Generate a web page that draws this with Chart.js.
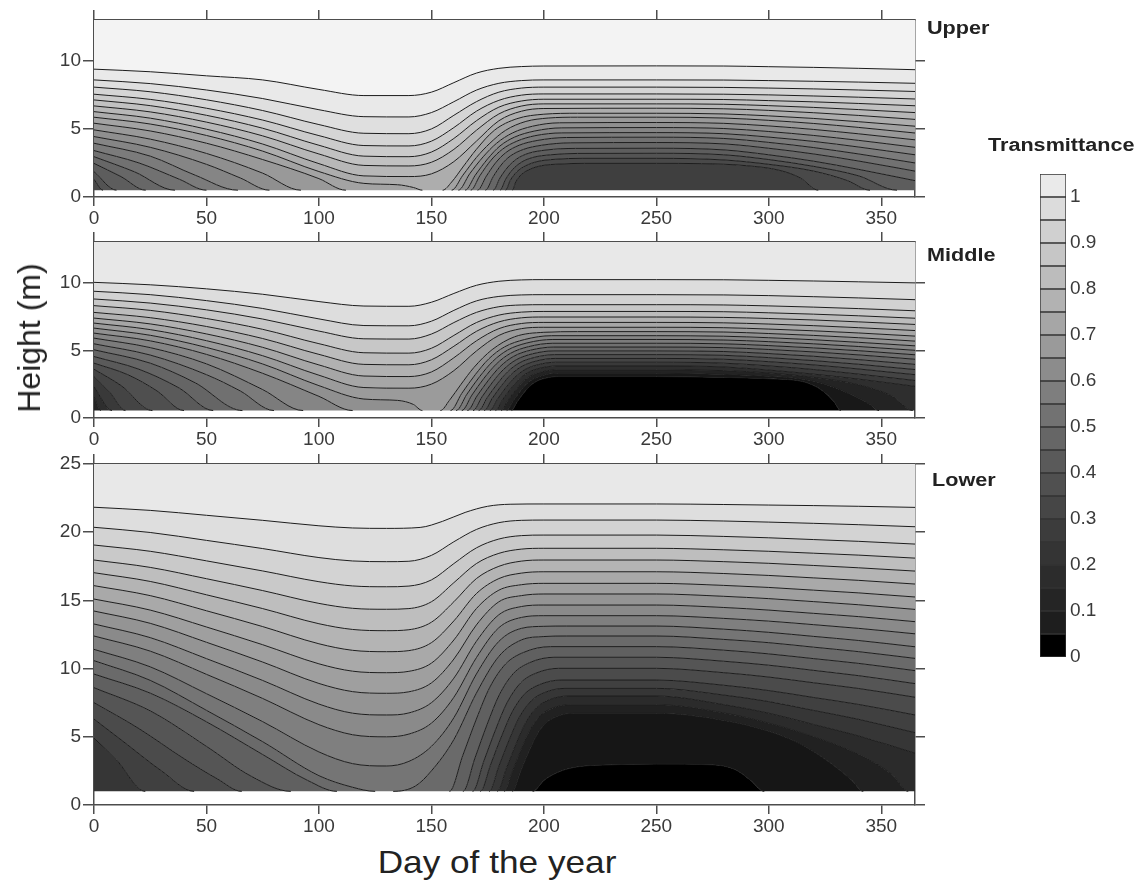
<!DOCTYPE html>
<html>
<head>
<meta charset="utf-8">
<script src="https://cdn.jsdelivr.net/npm/chart.js@4.4.1/dist/chart.umd.min.js"></script>
<style>
  body { margin: 0; background: #fff; width: 1139px; height: 893px; position: relative; overflow: hidden; font-family: 'Liberation Sans', Arial, sans-serif; }
  canvas { position: absolute; left: 0; }
  .txt { position: absolute; color: #222; white-space: nowrap; line-height: 1; }
  .pn { font-size: 18px; font-weight: bold; transform: scaleX(1.2); transform-origin: left center; }
</style>
</head>
<body>
<canvas id="upper" width="1139" height="230" style="top:0px"></canvas>
<canvas id="middle" width="1139" height="221" style="top:230px"></canvas>
<canvas id="lower" width="1139" height="387" style="top:451px"></canvas>
<canvas id="cbar" width="139" height="512" style="left:1000px;top:160px"></canvas>

<div class="txt pn" style="left:927px;top:19px">Upper</div>
<div class="txt pn" style="left:927px;top:246px">Middle</div>
<div class="txt pn" style="left:932px;top:471px">Lower</div>
<div class="txt pn" style="left:988px;top:136px">Transmittance</div>
<div class="txt" style="left:29px;top:338px;font-size:32px;transform:translate(-50%,-50%) rotate(-90deg)">Height (m)</div>
<div class="txt" style="left:497px;top:862px;font-size:32px;transform:translate(-50%,-50%) scaleX(1.1)">Day of the year</div>

<script>
// axis ticks
const dayTicks = [0, 50, 100, 150, 200, 250, 300, 350];
const shortYTicks = [0, 5, 10];
const tallYTicks = [0, 5, 10, 15, 20, 25];
const legendTicks = [0, 0.1, 0.2, 0.3, 0.4, 0.5, 0.6, 0.7, 0.8, 0.9, 1];
const legendBreaks = [0, 0.05, 0.1, 0.15, 0.2, 0.25, 0.3, 0.35, 0.4, 0.45, 0.5, 0.55, 0.6, 0.65, 0.7, 0.75, 0.8, 0.85, 0.9, 0.95, 1, 1.05];

// lowest height with data in each panel (m)
const upperFloor = 0.5;
const middleFloor = 0.55;
const lowerFloor = 1.0;

// contour lines, highest transmittance first: [day, height]
const upperLines = [
  [[0,9.39],[25,9.2],[50,8.9],[75,8.6],[100,7.9],[120,7.45],[140,7.45],[150,7.7],[160,8.4],[170,9.1],[180,9.45],[190,9.58],[200,9.62],[250,9.63],[280,9.62],[300,9.57],[320,9.52],[340,9.45],[365,9.35]],
  [[0,8.6],[25,8.33],[50,7.86],[75,7.23],[100,6.41],[120,5.9],[140,5.88],[150,6.2],[160,7.0],[170,7.85],[180,8.35],[190,8.55],[200,8.6],[250,8.6],[280,8.59],[300,8.55],[320,8.5],[340,8.44],[365,8.35]],
  [[0,8.07],[25,7.73],[50,7.14],[75,6.35],[100,5.32],[120,4.68],[140,4.65],[150,5.0],[160,6.0],[170,7.0],[180,7.7],[190,8.0],[200,8.07],[250,8.07],[280,8.05],[300,8.0],[320,7.94],[340,7.86],[365,7.75]],
  [[0,7.55],[25,7.17],[50,6.52],[75,5.65],[100,4.51],[120,3.78],[140,3.75],[150,4.1],[160,5.1],[170,6.3],[180,7.1],[190,7.48],[200,7.57],[250,7.57],[280,7.55],[300,7.5],[320,7.42],[340,7.33],[365,7.2]],
  [[0,7.13],[25,6.71],[50,6.0],[75,5.05],[100,3.8],[120,3.0],[140,2.96],[150,3.3],[160,4.3],[170,5.6],[180,6.6],[190,7.05],[200,7.18],[250,7.18],[280,7.16],[300,7.08],[320,6.99],[340,6.87],[365,6.7]],
  [[0,6.69],[25,6.25],[50,5.5],[75,4.49],[100,3.16],[120,2.32],[140,2.28],[150,2.55],[160,3.5],[170,4.9],[180,6.1],[190,6.68],[200,6.84],[250,6.84],[280,6.81],[300,6.71],[320,6.58],[340,6.42],[365,6.2]],
  [[0,6.27],[25,5.79],[50,4.98],[75,3.89],[100,2.45],[120,1.55],[140,1.5],[150,1.7],[160,2.6],[170,4.1],[180,5.6],[190,6.3],[200,6.5],[250,6.52],[280,6.48],[300,6.36],[320,6.19],[340,5.99],[365,5.7]],
  [[0,5.86],[25,5.36],[50,4.52],[75,3.37],[100,1.87],[120,1.0],[135,0.9],[142,0.7],[146,0.5],[155,0.5],[159,1.1],[164,2.2],[170,3.5],[178,4.9],[188,5.75],[200,6.08],[215,6.15],[250,6.15],[280,6.1],[300,5.96],[320,5.77],[340,5.53],[365,5.2]],
  [[0,5.42],[25,4.85],[50,3.95],[75,2.75],[100,1.35],[112,0.5],[159,0.5],[164,1.6],[170,2.9],[176,3.95],[183,4.9],[192,5.55],[202,5.8],[215,5.86],[250,5.86],[280,5.8],[300,5.63],[320,5.4],[340,5.11],[365,4.7]],
  [[0,4.93],[25,4.25],[50,3.2],[75,1.75],[92,0.5],[162,0.5],[167,1.7],[173,2.95],[179,3.95],[186,4.7],[195,5.2],[207,5.45],[250,5.47],[280,5.41],[300,5.22],[320,4.96],[340,4.64],[365,4.2]],
  [[0,4.44],[25,3.65],[50,2.4],[65,1.4],[78,0.5],[165,0.5],[169.5,1.6],[175,2.8],[180.5,3.75],[187,4.4],[196,4.85],[208,5.08],[250,5.1],[280,5.03],[300,4.81],[320,4.52],[340,4.16],[365,3.65]],
  [[0,3.95],[25,3.0],[45,1.6],[64,0.5],[167.5,0.5],[171.5,1.55],[176.5,2.7],[181.5,3.5],[188,4.1],[196,4.5],[208,4.71],[250,4.73],[280,4.65],[300,4.4],[320,4.08],[340,3.67],[365,3.1]],
  [[0,3.41],[20,2.5],[38,1.3],[50,0.5],[170.5,0.5],[174.5,1.55],[178.5,2.5],[183,3.25],[189,3.8],[197,4.15],[210,4.37],[250,4.39],[280,4.3],[300,4.01],[320,3.63],[340,3.16],[365,2.5]],
  [[0,2.96],[18,1.85],[36,0.5],[174,0.5],[177.5,1.5],[181,2.35],[185,3.0],[191,3.5],[199,3.8],[212,3.98],[250,4.0],[280,3.9],[300,3.58],[320,3.16],[340,2.64],[365,1.9]],
  [[0,2.47],[12,1.5],[23,0.5],[177.5,0.5],[180.5,1.4],[184,2.2],[188,2.8],[193,3.2],[201,3.45],[214,3.57],[250,3.58],[280,3.46],[300,3.1],[320,2.63],[340,2.03],[365,1.2]],
  [[0,1.86],[10,0.5],[180.5,0.5],[183,1.3],[186,2.0],[190,2.55],[195,2.9],[203,3.1],[215,3.2],[250,3.21],[280,3.1],[300,2.75],[320,2.25],[340,1.55],[357,0.5],[365,0.5]],
  [[0,1.3],[4,0.5],[183,0.5],[185,1.2],[188,1.85],[192,2.3],[197,2.6],[205,2.77],[217,2.84],[250,2.84],[280,2.72],[300,2.4],[320,1.9],[335,1.2],[345,0.5],[365,0.5]],
  [[0,0.5],[186,0.5],[187.5,1.1],[190,1.65],[194,2.05],[199,2.3],[207,2.42],[218,2.47],[250,2.47],[270,2.45],[290,2.3],[305,1.95],[314,1.4],[322,0.5],[365,0.5]]
];

const middleLines = [
  [[0,10.02],[25,9.84],[50,9.54],[75,9.14],[100,8.6],[120,8.27],[140,8.25],[150,8.55],[160,9.2],[170,9.8],[180,10.1],[190,10.2],[200,10.22],[250,10.22],[280,10.21],[300,10.17],[320,10.12],[340,10.06],[365,9.98]],
  [[0,9.36],[25,9.11],[50,8.67],[75,8.09],[100,7.32],[120,6.83],[140,6.81],[150,7.15],[160,7.95],[170,8.65],[180,8.98],[190,9.09],[200,9.11],[250,9.11],[280,9.09],[300,9.04],[320,8.96],[340,8.87],[365,8.74]],
  [[0,8.79],[25,8.49],[50,7.99],[75,7.31],[100,6.42],[120,5.85],[140,5.83],[150,6.2],[160,7.05],[170,7.8],[180,8.22],[190,8.35],[200,8.37],[250,8.37],[280,8.35],[300,8.28],[320,8.19],[340,8.08],[365,7.92]],
  [[0,8.3],[25,7.95],[50,7.35],[75,6.55],[100,5.49],[120,4.82],[140,4.79],[150,5.15],[160,6.1],[170,7.05],[180,7.6],[190,7.82],[200,7.87],[250,7.87],[280,7.85],[300,7.77],[320,7.67],[340,7.55],[365,7.37]],
  [[0,7.8],[25,7.41],[50,6.76],[75,5.87],[100,4.7],[120,3.96],[140,3.93],[150,4.3],[160,5.3],[170,6.4],[180,7.1],[190,7.4],[200,7.46],[250,7.46],[280,7.43],[300,7.35],[320,7.24],[340,7.1],[365,6.91]],
  [[0,7.38],[25,6.95],[50,6.21],[75,5.22],[100,3.92],[120,3.1],[140,3.06],[150,3.4],[160,4.45],[170,5.7],[180,6.6],[190,6.98],[200,7.06],[250,7.06],[280,7.03],[300,6.94],[320,6.82],[340,6.67],[365,6.46]],
  [[0,7.01],[25,6.53],[50,5.71],[75,4.6],[100,3.16],[120,2.25],[140,2.2],[150,2.5],[160,3.5],[170,4.95],[180,6.1],[190,6.6],[200,6.7],[250,6.7],[280,6.67],[300,6.57],[320,6.44],[340,6.28],[365,6.05]],
  [[0,6.64],[25,6.11],[50,5.21],[75,3.99],[100,2.39],[120,1.4],[135,1.3],[142,1.0],[146,0.55],[154,0.55],[158,1.3],[163,2.45],[169,3.75],[177,5.05],[187,6.0],[200,6.33],[215,6.38],[250,6.38],[280,6.35],[300,6.24],[320,6.1],[340,5.93],[365,5.68]],
  [[0,6.27],[25,5.7],[50,4.7],[75,3.3],[100,1.6],[115,0.55],[158.5,0.55],[163.5,1.82],[169.5,3.2],[175.5,4.37],[182.5,5.25],[191.5,5.8],[203.5,6.08],[250,6.08],[280,6.04],[300,5.93],[320,5.78],[340,5.59],[365,5.33]],
  [[0,5.9],[25,5.2],[50,4.0],[75,2.1],[93,0.55],[161,0.55],[165.8,1.76],[171.5,3.07],[177.2,4.17],[183.8,5.01],[192.4,5.54],[204,5.8],[250,5.8],[280,5.76],[300,5.64],[320,5.48],[340,5.28],[365,5.0]],
  [[0,5.48],[25,4.65],[50,3.2],[65,2.0],[80,0.55],[163.5,0.55],[168,1.69],[173.4,2.94],[178.8,3.98],[185.1,4.77],[193.2,5.27],[204,5.52],[250,5.52],[280,5.48],[300,5.35],[320,5.18],[340,4.97],[365,4.67]],
  [[0,5.04],[25,4.05],[45,2.6],[66,0.55],[166,0.55],[170.3,1.63],[175.4,2.8],[180.5,3.79],[186.4,4.54],[194.1,5.01],[204.3,5.24],[250,5.24],[280,5.2],[300,5.06],[320,4.88],[340,4.66],[365,4.34]],
  [[0,4.54],[20,3.6],[38,2.2],[53,0.55],[168.5,0.55],[172.5,1.56],[177.3,2.67],[182.1,3.59],[187.7,4.3],[194.9,4.74],[204.5,4.96],[250,4.96],[280,4.91],[300,4.76],[320,4.56],[340,4.31],[365,3.96]],
  [[0,4.05],[15,3.2],[28,2.0],[40,0.55],[171,0.55],[174.8,1.5],[179.3,2.53],[183.8,3.4],[189,4.06],[195.8,4.47],[204.8,4.68],[250,4.68],[280,4.63],[300,4.46],[320,4.24],[340,3.97],[365,3.58]],
  [[0,3.6],[12,2.4],[26,0.55],[173.5,0.55],[177,1.44],[181.2,2.4],[185.4,3.21],[190.3,3.82],[196.6,4.21],[205,4.4],[250,4.4],[280,4.34],[300,4.16],[320,3.92],[340,3.62],[365,3.2]],
  [[0,3.06],[7,1.9],[14,0.55],[176,0.55],[179.3,1.37],[183.2,2.26],[187.1,3.01],[191.6,3.58],[197.5,3.94],[205.3,4.12],[250,4.12],[280,4.05],[300,3.85],[320,3.58],[340,3.24],[365,2.77]],
  [[0,2.32],[8,0.55],[178.5,0.55],[181.5,1.31],[185.1,2.13],[188.7,2.82],[192.9,3.35],[198.3,3.68],[205.5,3.84],[250,3.84],[280,3.77],[300,3.54],[320,3.24],[340,2.87],[365,2.34]],
  [[0,1.58],[3,0.55],[181,0.55],[183.8,1.24],[187.1,1.99],[190.4,2.63],[194.2,3.11],[199.2,3.41],[205.8,3.56],[250,3.56],[280,3.5],[300,3.33],[320,3.0],[340,2.45],[355,1.6],[364,0.55],[365,0.55]],
  [[0,0.55],[183.5,0.55],[186,1.18],[189,1.87],[192,2.45],[195.5,2.89],[200,3.16],[206,3.3],[250,3.3],[280,3.22],[300,3.08],[316,2.85],[325,2.5],[335,1.85],[345,1.0],[349,0.55],[365,0.55]],
  [[0,0.55],[185.6,0.55],[187.9,1.13],[190.6,1.75],[193.3,2.28],[196.4,2.68],[200.5,2.93],[205.9,3.06],[250,3.06],[280,3.0],[300,2.9],[316,2.65],[324,2.0],[329,1.2],[332,0.55],[365,0.55]]
];

const lowerLines = [
  [[0,21.83],[25,21.6],[50,21.24],[75,20.87],[100,20.47],[115,20.31],[130,20.28],[145,20.35],[155,20.8],[165,21.45],[175,21.9],[185,22.05],[200,22.07],[250,22.07],[280,22.03],[300,21.99],[320,21.95],[340,21.9],[365,21.82]],
  [[0,20.36],[25,19.98],[50,19.4],[75,18.8],[100,18.14],[115,17.89],[130,17.84],[140,17.87],[150,18.3],[160,19.3],[170,20.2],[180,20.7],[190,20.87],[200,20.89],[250,20.89],[280,20.82],[300,20.74],[320,20.65],[340,20.55],[365,20.4]],
  [[0,19.06],[25,18.6],[50,17.9],[75,17.16],[100,16.37],[115,16.06],[130,16.0],[140,16.05],[150,16.5],[160,17.7],[170,18.85],[180,19.5],[190,19.75],[200,19.79],[250,19.79],[280,19.69],[300,19.59],[320,19.46],[340,19.33],[365,19.13]],
  [[0,17.96],[25,17.42],[50,16.59],[75,15.72],[100,14.78],[115,14.42],[130,14.35],[140,14.4],[150,14.9],[160,16.3],[170,17.7],[180,18.45],[190,18.76],[200,18.82],[250,18.82],[280,18.71],[300,18.6],[320,18.46],[340,18.32],[365,18.1]],
  [[0,17.03],[25,16.39],[50,15.41],[75,14.4],[100,13.29],[115,12.87],[130,12.78],[140,12.85],[150,13.4],[160,14.9],[170,16.6],[180,17.5],[190,17.88],[200,17.96],[250,17.96],[280,17.84],[300,17.72],[320,17.56],[340,17.39],[365,17.15]],
  [[0,16.08],[25,15.35],[50,14.24],[75,13.08],[100,11.82],[115,11.34],[130,11.24],[140,11.32],[150,11.9],[160,13.5],[170,15.5],[180,16.6],[190,17.0],[200,17.1],[250,17.1],[280,16.97],[300,16.83],[320,16.65],[340,16.47],[365,16.2]],
  [[0,15.1],[25,14.29],[50,13.05],[75,11.75],[100,10.35],[115,9.81],[130,9.7],[140,9.8],[150,10.4],[160,12.1],[170,14.4],[180,15.75],[190,16.15],[200,16.25],[250,16.25],[280,16.1],[300,15.95],[320,15.75],[340,15.55],[365,15.25]],
  [[0,14.22],[25,13.32],[50,11.93],[75,10.48],[100,8.91],[115,8.31],[130,8.19],[140,8.3],[150,8.95],[160,10.7],[170,13.2],[180,14.9],[190,15.35],[200,15.47],[250,15.47],[280,15.3],[300,15.13],[320,14.91],[340,14.68],[365,14.34]],
  [[0,13.27],[25,12.27],[50,10.73],[75,9.13],[100,7.4],[115,6.73],[130,6.6],[140,6.75],[150,7.5],[160,9.3],[170,12.0],[180,13.95],[190,14.55],[200,14.66],[250,14.66],[280,14.48],[300,14.29],[320,14.05],[340,13.81],[365,13.44]],
  [[0,12.39],[25,11.28],[50,9.58],[75,7.81],[100,5.89],[115,5.15],[130,5.0],[140,5.2],[150,6.0],[160,7.9],[170,10.8],[180,13.0],[190,13.75],[200,13.88],[250,13.88],[280,13.68],[300,13.48],[320,13.22],[340,12.95],[365,12.55]],
  [[0,11.41],[25,10.13],[50,8.16],[75,6.11],[100,3.89],[115,3.03],[130,2.86],[140,3.2],[150,4.3],[160,6.4],[170,9.6],[180,12.0],[190,12.95],[200,13.1],[210,13.12],[250,13.12],[280,12.89],[300,12.66],[320,12.36],[340,12.06],[365,11.6]],
  [[0,10.58],[25,9.14],[50,6.94],[75,4.64],[100,2.15],[115,1.3],[125,1.0],[133,1.0],[143,1.4],[150,2.5],[160,4.8],[170,8.2],[180,10.9],[190,12.1],[200,12.35],[210,12.39],[250,12.39],[280,12.14],[300,11.9],[320,11.57],[340,11.24],[365,10.75]],
  [[0,9.6],[25,8.2],[50,6.1],[75,3.7],[95,1.8],[108,1.0],[158,1.0],[164,3.65],[170,6.3],[176,8.64],[183,10.34],[191,11.19],[203,11.61],[250,11.61],[280,11.35],[300,11.08],[320,10.73],[340,10.38],[365,9.85]],
  [[0,8.6],[25,6.9],[50,4.3],[70,2.1],[87.5,1.0],[164,1.0],[169.4,3.46],[174.8,5.92],[180.2,8.08],[186.5,9.65],[193.7,10.44],[204.5,10.83],[250,10.83],[280,10.54],[300,10.25],[320,9.87],[340,9.48],[365,8.9]],
  [[0,7.5],[20,5.6],[40,3.4],[55,1.9],[65.7,1.0],[168.3,1.0],[173.4,3.26],[178.5,5.51],[183.6,7.49],[189.6,8.94],[196.4,9.66],[206.6,10.02],[250,10.02],[280,9.7],[300,9.38],[320,8.96],[340,8.54],[365,7.9]],
  [[0,6.3],[15,4.4],[30,2.5],[44.5,1.0],[171.7,1.0],[176.5,3.04],[181.3,5.08],[186.1,6.88],[191.7,8.18],[198.1,8.83],[207.7,9.16],[250,9.16],[280,8.78],[300,8.39],[320,7.88],[340,7.37],[365,6.6]],
  [[0,4.9],[10,3.3],[22.8,1.0],[175.6,1.0],[180.1,2.89],[184.6,4.78],[189.1,6.44],[194.4,7.64],[200.4,8.25],[209.4,8.55],[250,8.55],[280,8.06],[300,7.58],[320,6.93],[340,6.28],[365,5.3]],
  [[0,1.0],[179.3,1.0],[183.5,2.75],[187.7,4.5],[191.9,6.03],[196.8,7.15],[202.4,7.71],[210.8,7.99],[250,7.99],[280,7.36],[300,6.73],[320,5.9],[340,5.06],[365,3.8]],
  [[0,1.0],[182.4,1.0],[186.3,2.59],[190.2,4.18],[194.1,5.57],[198.65,6.59],[203.85,7.1],[211.65,7.35],[250,7.35],[280,6.75],[300,6.0],[320,5.0],[340,3.7],[355,2.2],[362,1.0],[365,1.0]],
  [[0,1.0],[186,1.0],[189.6,2.43],[193.2,3.86],[196.8,5.12],[201,6.03],[205.8,6.49],[213,6.72],[250,6.72],[280,6.2],[300,5.4],[315,4.4],[328,3.0],[337,1.8],[342,1.0],[365,1.0]],
  [[0,1.0],[195,1.0],[200,1.8],[207,2.45],[215,2.8],[230,2.95],[250,3.0],[275,2.95],[285,2.6],[292,1.8],[298,1.0],[365,1.0]]
];

// colour-bar boxes, 0 at the bottom
const legendColors = ['#000000','#1e1e1e','#252525','#2c2c2c','#343434','#3c3c3c','#464646','#505050','#5a5a5a','#666666','#727272','#7e7e7e','#8c8c8c','#9a9a9a','#a6a6a6','#b2b2b2','#bcbcbc','#c6c6c6','#d0d0d0','#dcdcdc','#eaeaea'];

Chart.defaults.font.family = "'Liberation Sans', Arial, sans-serif";
Chart.defaults.animation = false;

const gray = g => { const v = Math.max(0, Math.round(g)); return `rgb(${v},${v},${v})`; };
const ramp = (n, top, bottom, blackLast) => Array.from({ length: n }, (_, k) =>
  blackLast && k === n - 1 ? '#000' : gray(top - k * (top - bottom) / (blackLast ? n - 2 : n - 1)));

const setTicks = values => s => { s.ticks = values.map(v => ({ value: v })); };
const fixSize = (key, size) => s => { s[key] = size; s.paddingLeft = 0; s.paddingRight = 0; s.paddingTop = 0; s.paddingBottom = 0; };

function panelScales(yMax, yTicks, topH, bottomH) {
  const axisColor = '#4d4d4d';
  const grid = len => ({ drawOnChartArea: false, drawTicks: true, tickLength: len, color: axisColor, lineWidth: 1.5 });
  const border = { display: true, color: axisColor, width: 1.5 };
  const tickText = { color: '#3a3a3a', font: { size: 19 } };
  return {
    x: { type: 'linear', position: 'bottom', min: 0, max: 365, afterBuildTicks: setTicks(dayTicks), afterFit: fixSize('height', bottomH),
         grid: grid(9), border, ticks: { ...tickText, padding: 1, maxRotation: 0 } },
    x2: { type: 'linear', position: 'top', min: 0, max: 365, afterBuildTicks: setTicks(dayTicks), afterFit: fixSize('height', topH),
          grid: grid(10), border, ticks: { display: false } },
    y: { type: 'linear', position: 'left', min: 0, max: yMax, afterBuildTicks: setTicks(yTicks), afterFit: fixSize('width', 94),
         grid: grid(11), border, ticks: { ...tickText, padding: 2 } },
    y2: { type: 'linear', position: 'right', min: 0, max: yMax, afterBuildTicks: setTicks(yTicks), afterFit: fixSize('width', 1139 - 915),
          grid: grid(10), border, ticks: { display: false } }
  };
}

function drawPanel(id, lines, floor, yMax, yTicks, topH, bands) {
  const toXY = pts => pts.map(p => ({ x: p[0], y: p[1] }));
  const onFloor = c => c.p0.parsed.y <= floor + 1e-6 && c.p1.parsed.y <= floor + 1e-6;
  // filled bands: one unbroken dataset per contour, filled up to the contour above
  const fills = lines.map((pts, i) => ({
    data: toXY(pts),
    fill: i === 0 ? 'end' : i - 1,
    backgroundColor: bands[i],
    borderWidth: 0,
    pointRadius: 0,
    cubicInterpolationMode: 'monotone'
  }));
  fills.push({
    data: [{ x: 0, y: floor }, { x: 365, y: floor }],
    fill: lines.length - 1, backgroundColor: bands[lines.length], borderWidth: 0, pointRadius: 0
  });
  // contour strokes, hidden where they run along the bottom of the data
  const strokes = lines.map(pts => ({
    data: toXY(pts),
    fill: false,
    borderColor: '#1c1c1c',
    borderWidth: 1,
    pointRadius: 0,
    cubicInterpolationMode: 'monotone',
    segment: { borderColor: c => onFloor(c) ? 'rgba(0,0,0,0)' : undefined }
  }));
  new Chart(document.getElementById(id), {
    type: 'line',
    data: { datasets: fills.concat(strokes) },
    options: {
      responsive: false,
      layout: { padding: 0 },
      plugins: { legend: { display: false }, tooltip: { enabled: false }, filler: { drawTime: 'beforeDatasetsDraw' } },
      scales: panelScales(yMax, yTicks, topH, 33)
    }
  });
}

drawPanel('upper', upperLines, upperFloor, 13, shortYTicks, 20, ramp(upperLines.length + 1, 243, 63, false));
drawPanel('middle', middleLines, middleFloor, 13, shortYTicks, 12, ramp(middleLines.length + 1, 232, 24, true));
drawPanel('lower', lowerLines, lowerFloor, 25, tallYTicks, 13, ramp(lowerLines.length + 1, 232, 22, true));

new Chart(document.getElementById('cbar'), {
  type: 'bar',
  data: {
    labels: [''],
    datasets: legendColors.map((c, i) => ({
      data: [legendBreaks[i + 1] - legendBreaks[i]],
      backgroundColor: c, borderColor: '#333', borderWidth: 1, borderSkipped: false,
      barPercentage: 1, categoryPercentage: 1
    }))
  },
  options: {
    responsive: false,
    layout: { padding: { left: 40, top: 14, bottom: 15, right: 0 } },
    plugins: { legend: { display: false }, tooltip: { enabled: false } },
    scales: {
      x: { display: false, stacked: true },
      y: { stacked: true, position: 'right', min: 0, max: 1.05, afterBuildTicks: setTicks(legendTicks), afterFit: fixSize('width', 73),
           grid: { display: false, drawTicks: false }, border: { display: false },
           ticks: { color: '#3a3a3a', font: { size: 19 }, padding: 4, callback: v => String(+v.toFixed(1)) } }
    }
  }
});
</script>
</body>
</html>
